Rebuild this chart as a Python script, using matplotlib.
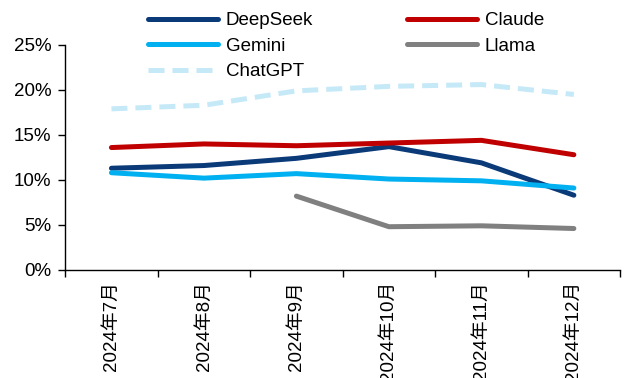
import matplotlib.pyplot as plt
import numpy as np

plt.rcParams['font.family'] = ['Liberation Sans', 'Noto Sans CJK SC']

months = ['2024年7月', '2024年8月', '2024年9月', '2024年10月', '2024年11月', '2024年12月']
deepseek = [11.3, 11.6, 12.4, 13.7, 11.9, 8.3]
claude = [13.6, 14.0, 13.8, 14.1, 14.4, 12.8]
gemini = [10.8, 10.2, 10.7, 10.1, 9.9, 9.1]
llama = [np.nan, np.nan, 8.2, 4.8, 4.9, 4.6]
chatgpt = [17.9, 18.3, 19.9, 20.4, 20.6, 19.5]

x = np.arange(len(months))
fs = 13.5

fig = plt.figure(figsize=(6.27, 3.78), dpi=100)
ax = fig.add_axes([0.104, 0.286, 0.885, 0.595])

lw = 3.6
l_ds, = ax.plot(x, deepseek, color='#0B3A78', lw=lw, label='DeepSeek', solid_capstyle='round')
l_cl, = ax.plot(x, claude, color='#C00000', lw=lw, label='Claude', solid_capstyle='round')
l_ge, = ax.plot(x, gemini, color='#00B0F0', lw=lw, label='Gemini', solid_capstyle='round')
l_ll, = ax.plot(x, llama, color='#808080', lw=lw, label='Llama', solid_capstyle='round')
l_gp, = ax.plot(x, chatgpt, color='#C6E9F8', lw=lw, label='ChatGPT', dashes=(3.2, 1.6))

ax.set_xlim(-0.5, len(months) - 0.5)
ax.set_ylim(0, 25)
ax.set_yticks(np.arange(0, 26, 5))
ax.set_yticklabels([f'{v}%' for v in range(0, 26, 5)], fontsize=fs)

# boundary ticks between months, labels at the centres
ax.set_xticks(np.arange(-0.5, len(months), 1))
ax.set_xticklabels([])
ax.set_xticks(x, minor=True)
ax.set_xticklabels(months, minor=True, rotation=90, fontsize=fs, va='top')
ax.tick_params(axis='x', which='minor', length=0, pad=8)
ax.tick_params(axis='x', which='major', length=5, width=1, direction='out')
ax.tick_params(axis='y', length=5, width=1, direction='out', pad=5)

for s in ['top', 'right']:
    ax.spines[s].set_visible(False)
for s in ['left', 'bottom']:
    ax.spines[s].set_linewidth(1)
    ax.spines[s].set_color('black')

handles = [l_ds, l_ge, l_gp, l_cl, l_ll]
fig.legend(handles=handles, labels=[h.get_label() for h in handles],
           loc='upper left', bbox_to_anchor=(0.209, 1.013), ncol=2, frameon=False,
           fontsize=fs, handlelength=3.75, columnspacing=5.0, labelspacing=0.45,
           handletextpad=0.4)

fig.savefig('out.png', dpi=100)
